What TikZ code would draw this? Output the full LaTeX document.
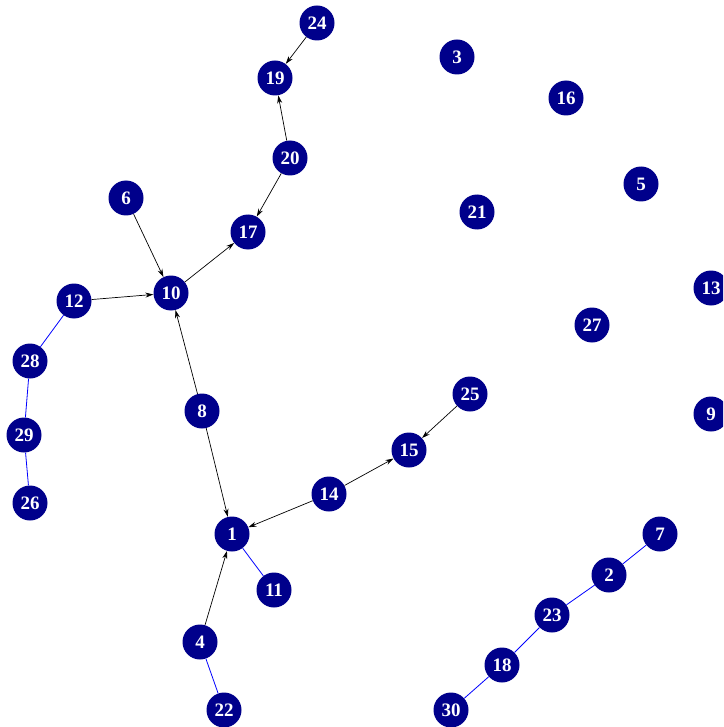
\documentclass[tikz,border=0pt]{standalone}
\usepackage{fontspec}
\setmainfont{Liberation Serif}
\usetikzlibrary{arrows.meta}
\definecolor{vertfill}{HTML}{00008B}
\definecolor{linkline}{HTML}{0000FF}
\tikzset{
  vert/.style = {circle, fill=vertfill, draw=none, text=white,
                 font=\bfseries\fontsize{19}{19}\selectfont,
                 minimum size=35pt, inner sep=0pt},
  arc/.style  = {-{Stealth[length=8pt, width=5pt]}, line width=0.7pt, draw=black},
  link/.style = {line width=0.8pt, draw=linkline},
}
\begin{document}
\begin{tikzpicture}[x=1pt, y=-1pt]
        \useasboundingbox (0,0) rectangle (723,727);
        \clip (0,0) rectangle (723,727);
        % free-standing vertices
        \node[vert] (n3)  at (457,57)  {3};
        \node[vert] (n16) at (566,98)  {16};
        \node[vert] (n5)  at (641,184) {5};
        \node[vert] (n21) at (477,212) {21};
        \node[vert] (n13) at (711,288) {13};
        \node[vert] (n27) at (592,325) {27};
        \node[vert] (n9)  at (711,414) {9};
        % directed tree
        \node[vert] (n24) at (317,23)  {24};
        \node[vert] (n19) at (275,78)  {19};
        \node[vert] (n20) at (290,158) {20};
        \node[vert] (n17) at (248,232) {17};
        \node[vert] (n6)  at (126,198) {6};
        \node[vert] (n10) at (171,293) {10};
        \node[vert] (n12) at (74,301)  {12};
        \node[vert] (n8)  at (202,411) {8};
        \node[vert] (n1)  at (232,534) {1};
        \node[vert] (n14) at (329,494) {14};
        \node[vert] (n15) at (409,450) {15};
        \node[vert] (n25) at (470,394) {25};
        \node[vert] (n4)  at (200,642) {4};
        \node[vert] (n11) at (274,590) {11};
        \node[vert] (n22) at (224,710) {22};
        % chains
        \node[vert] (n28) at (30,361)  {28};
        \node[vert] (n29) at (24,435)  {29};
        \node[vert] (n26) at (30,503)  {26};
        \node[vert] (n7)  at (660,534) {7};
        \node[vert] (n2)  at (609,575) {2};
        \node[vert] (n23) at (552,615) {23};
        \node[vert] (n18) at (502,665) {18};
        \node[vert] (n30) at (451,710) {30};
        \draw[arc] (n24) -- (n19);
        \draw[arc] (n20) -- (n19);
        \draw[arc] (n20) -- (n17);
        \draw[arc] (n10) -- (n17);
        \draw[arc] (n6)  -- (n10);
        \draw[arc] (n12) -- (n10);
        \draw[arc] (n8)  -- (n10);
        \draw[arc] (n8)  -- (n1);
        \draw[arc] (n14) -- (n1);
        \draw[arc] (n14) -- (n15);
        \draw[arc] (n25) -- (n15);
        \draw[arc] (n4)  -- (n1);
        \draw[link] (n12) -- (n28);
        \draw[link] (n28) -- (n29);
        \draw[link] (n29) -- (n26);
        \draw[link] (n1)  -- (n11);
        \draw[link] (n4)  -- (n22);
        \draw[link] (n7)  -- (n2);
        \draw[link] (n2)  -- (n23);
        \draw[link] (n23) -- (n18);
        \draw[link] (n18) -- (n30);
    \end{tikzpicture}
\end{document}
